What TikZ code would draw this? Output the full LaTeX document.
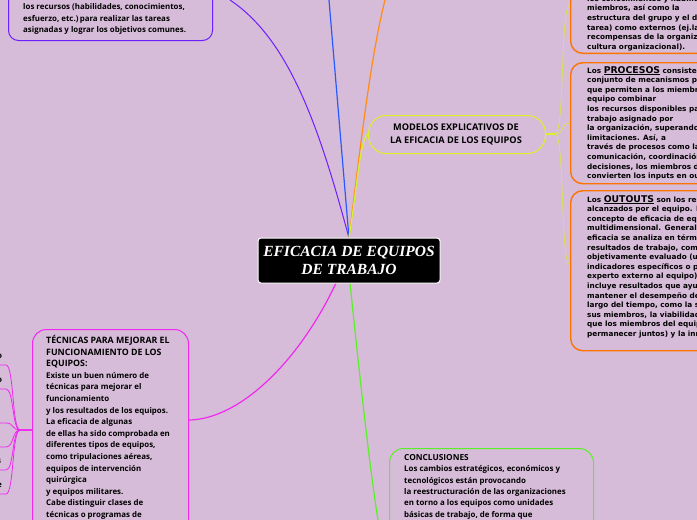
\documentclass[tikz,border=0pt]{standalone}
\usepackage{fontspec}
\setmainfont{Open Sans}
\newfontfamily\dv{DejaVu Sans}
\newfontfamily\lib{Liberation Serif}
\begin{document}
\begin{tikzpicture}[x=1pt,y=-1pt,
  txt/.style={anchor=north west,align=left,inner sep=0pt,font=\fontsize{7.9}{11.6}\selectfont\bfseries},
  otxt/.style={anchor=north west,align=left,inner sep=0pt,font=\dv\fontsize{7.3}{9.6}\selectfont\bfseries},
  obox/.style={draw=orange!90!red,line width=1.4pt,rounded corners=12pt},
  conn/.style={line width=1.2pt}]
\useasboundingbox (0,0) rectangle (697,520);
\fill[fill={rgb,255:red,214;green,188;blue,216}] (0,0) rectangle (697,520);
\begin{scope}
\clip (0,0) rectangle (697,520);
% connectors
\coordinate (c) at (349,238);
\draw[conn,draw={rgb,255:red,110;green,30;blue,255},line width=1pt] (c) .. controls (320,130) and (290,40) .. (230,0);
\draw[conn,draw={rgb,255:red,40;green,90;blue,255}] (c) -- (329,0);
\draw[conn,draw={rgb,255:red,255;green,140;blue,20}] (c) .. controls (360,150) and (370,60) .. (385,0);
\draw[conn,draw={rgb,255:red,220;green,240;blue,40}] (c) .. controls (358,180) and (360,140) .. (368,134);
\draw[conn,draw={rgb,255:red,240;green,40;blue,240}] (336,283) .. controls (300,360) and (240,420) .. (188,420);
\draw[conn,draw={rgb,255:red,90;green,240;blue,40}] (350,283) .. controls (360,380) and (370,470) .. (378,520);
% MODELOS branches
\draw[draw={rgb,255:red,220;green,240;blue,40},line width=1.4pt] (545,134) -- (555,134);
\foreach \yy in {5,123,265}{\draw[draw={rgb,255:red,220;green,240;blue,40},line width=0.5pt] (555,134) .. controls (565,134) and (560,\yy) .. (570,\yy);}
% top left box
\node[draw={rgb,255:red,110;green,30;blue,255},line width=1pt,rounded corners=10pt,minimum width=204pt,minimum height=80pt,anchor=south west] (tl) at (8,41) {};
\node[txt,anchor=south west] (tlt) at (23,35) {los recursos (habilidades, conocimientos,\\esfuerzo, etc.)\,para realizar las tareas\\asignadas y lograr los objetivos comunes.};
% orange boxes
\node[obox,minimum width=150pt,minimum height=100pt,anchor=south west] (o1) at (570,54) {};
\node[otxt,anchor=south west] (o1t) at (587,51) {los conocimientos y habilidades de los\\miembros, así como la\\estructura del grupo y el diseño de la\\tarea) como externos (ej.las\\recompensas de la organización y la\\cultura organizacional).};
\node[obox,minimum width=150pt,minimum height=121pt,anchor=north west] (o2) at (570,62) {};
\node[otxt] (o2t) at (587,66) {Los {\fontsize{9.3}{9.6}\selectfont\underline{PROCESOS}} consisten en un\\conjunto de mecanismos psicológicos\\que permiten a los miembros del\\equipo combinar\\los recursos disponibles para realizar el\\trabajo asignado por\\la organización, superando sus\\limitaciones. Así, a\\través de procesos como la\\comunicación, coordinación y toma de\\decisiones, los miembros del equipo\\convierten los inputs en outputs.};
\node[obox,minimum width=150pt,minimum height=160pt,anchor=north west] (o3) at (570,190) {};
\node[otxt] (o3t) at (587,195) {Los {\fontsize{9.3}{9.6}\selectfont\underline{OUTOUTS}} son los resultados\\alcanzados por el equipo. El\\concepto de eficacia de equipo es\\multidimensional. Generalmente, la\\eficacia se analiza en términos de\\resultados de trabajo, como el\\objetivamente evaluado (u\\indicadores específicos o por un\\experto externo al equipo), e\\incluye resultados que ayudan a\\mantener el desempeño del equipo a\\largo del tiempo, como la satisfacción de\\sus miembros, la viabilidad (el grado en\\que los miembros del equipo desean\\permanecer juntos) y la innovación.};
% MODELOS
\node[draw={rgb,255:red,220;green,240;blue,40},line width=1pt,rounded corners=18pt,minimum width=177pt,minimum height=38pt,anchor=north west] (mod) at (368,115) {};
\node[align=center,font=\fontsize{9.2}{13}\selectfont\bfseries] (modt) at (456,134) {MODELOS EXPLICATIVOS DE\\LA EFICACIA DE LOS EQUIPOS};
% root
\node[fill=black,draw=white,line width=1pt,rounded corners=3pt,minimum width=182pt,minimum height=45pt,align=center,text=white,font=\lib\fontsize{15.5}{18}\selectfont\bfseries\itshape] (root) at (349,260.5) {EFICACIA DE EQUIPOS\\DE TRABAJO};
% TECNICAS
\node[draw={rgb,255:red,240;green,40;blue,240},line width=1pt,rounded corners=14pt,minimum width=156pt,minimum height=220pt,anchor=north west] (tec) at (32,329) {};
\node[txt] (tect) at (46,335) {{\fontsize{8.8}{11.6}\selectfont TÉCNICAS PARA MEJORAR EL}\\{\fontsize{8.8}{11.6}\selectfont FUNCIONAMIENTO DE LOS}\\{\fontsize{8.8}{11.6}\selectfont EQUIPOS:}\\Existe un buen número de\\técnicas para mejorar el\\funcionamiento\\ y los resultados de los equipos.\\La eficacia de algunas\\de ellas ha sido comprobada en\\diferentes tipos de equipos,\\como tripulaciones aéreas,\\equipos de intervención\\quirúrgica\\y equipos militares.\\Cabe distinguir  clases de\\técnicas o programas de\\intervención:};
\foreach \yy/\ll in {365/o,389/o,423/,447/l,470/s,494/e}{
  \draw[draw={rgb,255:red,240;green,40;blue,240},line width=0.8pt] (32,430) -- (20,430) .. controls (12,430) and (14,\yy) .. (6,\yy) -- (-10,\yy);
  \node[font=\fontsize{8}{8}\selectfont\bfseries,anchor=south west,inner sep=0pt] at (-3,\yy-6) {\ll};}
% CONCLUSIONES
\node[draw={rgb,255:red,90;green,240;blue,40},line width=1pt,rounded corners=14pt,minimum width=204pt,minimum height=120pt,anchor=north west] (con) at (389,448) {};
\node[txt,font=\fontsize{7.9}{11.4}\selectfont\bfseries] (cont) at (404,454) {{\fontsize{8.3}{11.4}\selectfont CONCLUSIONES}\\Los cambios estratégicos, económicos y\\tecnológicos están provocando\\la reestructuración de las organizaciones\\en torno a los equipos como unidades\\básicas de trabajo, de forma que};
\end{scope}
\end{tikzpicture}
\end{document}
